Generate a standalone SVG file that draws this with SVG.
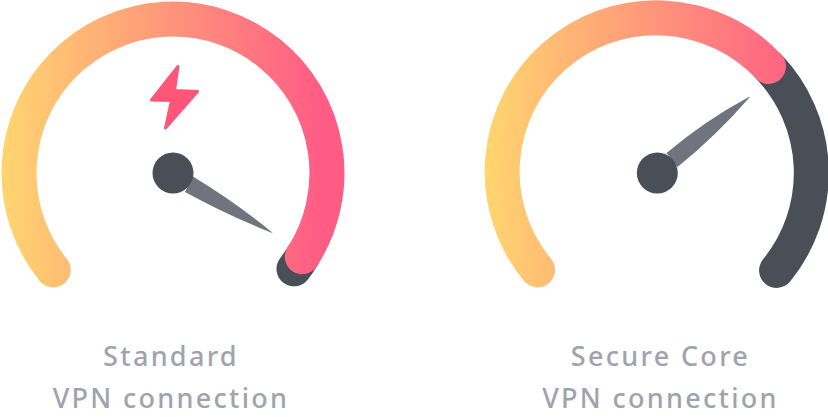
<svg xmlns="http://www.w3.org/2000/svg" width="828" height="417" viewBox="0 0 828 417">
<style>
.track{fill:none;stroke:#4A4E57;stroke-width:35;stroke-linecap:round}
.fill{fill:none;stroke-width:35;stroke-linecap:round}
.hub{fill:#4A4E57}
.needle{fill:#71747F}
.label{font-family:"Noto Sans","Open Sans",sans-serif;font-size:27px;font-weight:500;letter-spacing:2.3px;fill:#A0A3AE;text-anchor:middle}
</style>
<defs>
<linearGradient id="gl" gradientUnits="userSpaceOnUse" x1="2" y1="140" x2="320" y2="140"><stop offset="0" stop-color="#FFD56F"/><stop offset="1" stop-color="#FF5C85"/></linearGradient>
<linearGradient id="gr" gradientUnits="userSpaceOnUse" x1="486" y1="140" x2="805" y2="140"><stop offset="0" stop-color="#FFD56F"/><stop offset="1" stop-color="#FF5C85"/></linearGradient>
</defs>
<g id="gauge-standard">
<path class="track" d="M294 268.800A154 154 0 0 0 302.300 256.700"/>
<path class="fill" stroke="url(#gl)" d="M53.200 269.900A154 154 0 1 1 302.300 256.700"/>
<path class="needle" d="M193 176.500Q235 202 271 231.500Q274 233.500 271 232.500Q227 215 185 192Z"/>
<circle class="hub" cx="173" cy="173" r="20.500"/>
<path id="bolt" fill="#FF5578" stroke="#FF5578" stroke-width="3" stroke-linejoin="round" d="M178 66.500L151.500 100L171.500 100.500L165.500 128L197.500 91.500L174.500 90.500Z"/>
</g>
<g id="gauge-secure">
<path class="track" d="M776.600 270.400A154 154 0 0 0 768.500 66.400"/>
<path class="fill" stroke="url(#gr)" d="M537.500 269.900A154 154 0 0 1 768.500 66.400"/>
<path class="needle" d="M666.500 153Q706 120 747 98Q751 95.500 749 98Q716 136 677.500 167Z"/>
<circle class="hub" cx="657.300" cy="173" r="20.500"/>
</g>
<g id="labels">
<text class="label" x="171" y="366">Standard</text>
<text class="label" x="171" y="408">VPN connection</text>
<text class="label" x="660.500" y="366">Secure Core</text>
<text class="label" x="660.500" y="408">VPN connection</text>
</g>
</svg>
